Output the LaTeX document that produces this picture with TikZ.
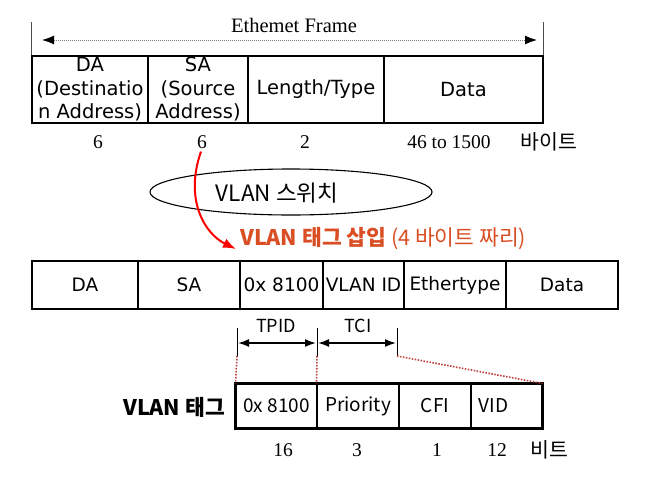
\documentclass[tikz,border=0pt]{standalone}
\usepackage{fontspec}
\setmainfont{Liberation Serif}
\newfontfamily\cellfont{DejaVu Sans}
\newfontfamily\krfont{Noto Sans CJK KR}
\usetikzlibrary{arrows.meta,shapes.geometric}
\definecolor{tagred}{RGB}{218,78,36}
\definecolor{guidered}{RGB}{190,60,60}

\begin{document}
\begin{tikzpicture}[x=1pt, y=-1pt,
		cell/.style={draw, rectangle, line width=1.1pt, inner sep=0pt, align=center, font=\cellfont\fontsize{19.5}{23.5}\selectfont},
		topcell/.style={cell, minimum height=67pt},
		midcell/.style={cell, minimum height=48pt, font=\cellfont\fontsize{18.5}{22}\selectfont},
		tagcell/.style={cell, minimum height=44pt, font=\krfont\fontsize{19}{23}\selectfont},
		num/.style={inner sep=0pt, font=\fontsize{19.5}{23}\selectfont},
		krnum/.style={inner sep=0pt, font=\krfont\fontsize{20.5}{23}\selectfont},
		tick/.style={line width=1pt, gray!60!black},
		framearrow/.style={{Latex[black,length=12pt,width=9pt]}-{Latex[black,length=12pt,width=9pt]}, densely dotted, gray, line width=1pt},
		dimarrow/.style={{Latex[length=11pt,width=8pt]}-{Latex[length=11pt,width=8pt]}, line width=1.6pt},
		insarrow/.style={-{Latex[length=13pt,width=10pt]}, red, line width=2pt},
		guide/.style={guidered, line width=1.6pt, dash pattern=on 1.5pt off 1.5pt},
	]
	\useasboundingbox (0,0) rectangle (666,490);

	\node[topcell, minimum width=116pt] (tDA)   at (90,89.5)    {DA\\(Destinatio\\n Address)};
	\node[topcell, minimum width=100pt] (tSA)   at (198,89.5)   {SA\\(Source\\Address)};
	\node[topcell, minimum width=136pt] (tLT)   at (316,89.5)   {Length/Type};
	\node[topcell, minimum width=159pt] (tData) at (463.5,89.5) {Data};

	\draw[tick] (tDA.north west) -- ++(0,-33);
	\draw[tick] (tData.north east) -- ++(0,-33);
	\coordinate (efL) at (32,40);
	\coordinate (efR) at (543,40);
	\draw[framearrow, shorten <=10pt, shorten >=6pt] (efL) -- (efR);
	\node[inner sep=0pt, font=\fontsize{20.5}{23}\selectfont] (eframe) at (294,25) {Ethemet Frame};

	\node[num] (nDA)   at (98,142)  {6};
	\node[num] (nSA)   at (202,142) {6};
	\node[num] (nLT)   at (305,142) {2};
	\node[num] (nData) at (449,142) {46 to 1500};
	\node[krnum] (nByte) at (549,142) {바이트};

	\node[draw, ellipse, line width=1.1pt, minimum width=282pt, minimum height=46pt] (switch) at (291,192) {};
	\node[font=\krfont\fontsize{22.5}{25}\selectfont] (switchtxt) at (277,193) {VLAN 스위치};

	\node[anchor=west, inner sep=0pt, text=tagred, font=\krfont\fontsize{21.5}{24}\selectfont] (insert) at (240,239) {\textbf{VLAN 태그 삽입} (4 바이트 짜리)};
	\coordinate (insTip) at (236,249);
	\draw[insarrow, shorten <=3pt] (nSA.south) .. controls (184,200) and (205,234) .. (insTip);

	\node[midcell, minimum width=106pt] (mDA)   at (85,285)    {DA};
	\node[midcell, minimum width=102pt] (mSA)   at (189,285)   {SA};
	\node[midcell, minimum width=102pt] (mEth)  at (455,285)   {Ethertype};
	\node[midcell, minimum width=112pt] (mData) at (562,285)   {Data};
	\node[midcell, line width=2.8pt, minimum width=83pt] (mTPID) at (281.5,285) {0x 8100};
	\node[midcell, line width=2.8pt, minimum width=81pt] (mVID)  at (363.5,285) {VLAN ID};

	\coordinate (d1) at (237,343);
	\coordinate (d2) at (317,343);
	\coordinate (d3) at (397,343);
	\draw[line width=1pt] ([yshift=15pt]d1) -- ([yshift=-13pt]d1);
	\draw[line width=1pt] ([yshift=15pt]d2) -- ([yshift=-13pt]d2);
	\draw[line width=1pt] ([yshift=15pt]d3) -- ([yshift=-13pt]d3);
	\draw[dimarrow, shorten <=1pt, shorten >=1pt] (d1) -- (d2);
	\draw[dimarrow, shorten <=1pt, shorten >=1pt] (d2) -- (d3);
	\node[font=\krfont\fontsize{18}{20}\selectfont] (tpid) at (276,326) {TPID};
	\node[font=\krfont\fontsize{18}{20}\selectfont] (tci)  at (358,326) {TCI};

	\node[tagcell, minimum width=81pt] (gTPID) at (276.5,406) {0x 8100};
	\node[tagcell, minimum width=82pt] (gPri)  at (358,406)   {Priority};
	\node[tagcell, minimum width=72pt] (gCFI)  at (435,406)   {CFI};
	\node[tagcell, minimum width=71pt] (gVID)  at (506.5,406) {VID\hspace*{26pt}};
	\draw[line width=3pt] (gTPID.north west) rectangle (gVID.south east);

	\draw[guide] ([yshift=-13pt]d1) -- (gTPID.north west);
	\draw[guide] ([yshift=-13pt]d2) -- (gPri.north west);
	\draw[guide] ([yshift=-13pt]d3) -- (gVID.north east);

	\node[font=\krfont\bfseries\fontsize{21.5}{24}\selectfont] (tagname) at (174,407) {VLAN 태그};

	\node[num] (b16) at (283,450) {16};
	\node[num] (b3)  at (357,450) {3};
	\node[num] (b1)  at (437,450) {1};
	\node[num] (b12) at (497,450) {12};
	\node[krnum] (bBit) at (549,450) {비트};
\end{tikzpicture}
\end{document}
